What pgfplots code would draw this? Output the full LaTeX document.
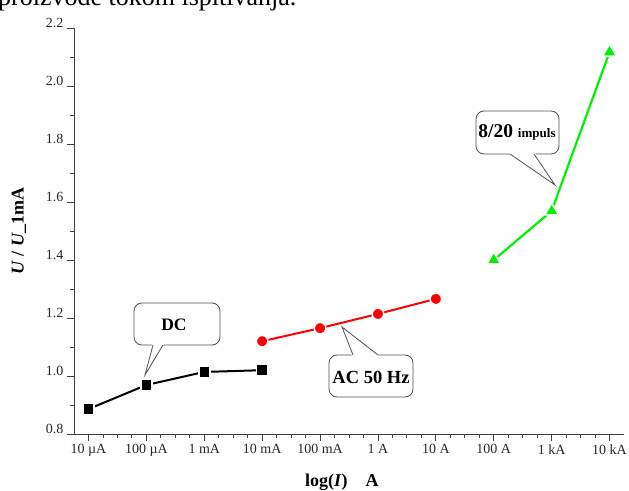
\documentclass[border=0pt]{standalone}
\usepackage{pgfplots}
\pgfplotsset{compat=1.18}
\usepackage{fontspec}
\setmainfont{Liberation Serif}
\definecolor{mygreen}{RGB}{0,240,0}
\definecolor{myred}{RGB}{255,0,0}
\definecolor{boxgray}{RGB}{80,80,80}

\begin{document}
\begin{tikzpicture}[x=1pt,y=1pt]
\node[anchor=base west, inner sep=0pt, font=\fontsize{26}{30}\selectfont] at (-2,484.5) {proizvode tokom ispitivanja.};
\begin{axis}[
  at={(74pt,56pt)}, anchor=south west,
  scale only axis, width=550pt, height=406pt,
  xmin=-5.25, xmax=4.25, ymin=0.8, ymax=2.2,
  axis x line*=bottom, axis y line*=left,
  axis line style={black!75, line width=0.8pt},
  xtick={-5,-4,-3,-2,-1,0,1,2,3,4},
  xticklabels={10 µA, 100 µA, 1 mA, 10 mA, 100 mA, 1 A, 10 A, 100 A, 1 kA, 10 kA},
  minor x tick num=3,
  ytick={0.8,1.0,1.2,1.4,1.6,1.8,2.0,2.2},
  minor y tick num=1,
  tick align=outside,
  major tick length=7pt, minor tick length=4pt,
  every tick/.style={black!75, line width=0.8pt},
  yticklabel style={/pgf/number format/fixed, /pgf/number format/fixed zerofill, /pgf/number format/precision=1, yshift=5pt},
  /pgf/number format/assume math mode=true,
  tick label style={font=\fontsize{14}{16}\selectfont, text=black!85},
  xlabel={\bfseries log(\textit{I})\quad A},
  ylabel={\bfseries\textit{U} / \textit{U}\_1mA},
  every axis x label/.style={at={(axis description cs:0.487,-0.118)}, anchor=center, font=\fontsize{18}{21}\selectfont},
  every axis y label/.style={at={(axis description cs:-0.1,0.5)}, rotate=90, anchor=center, font=\fontsize{18}{21}\selectfont},
  clip=false,
]
\addplot[black, line width=2pt, mark=square*, mark size=5.5pt,
  mark options={solid, fill=black, draw=white, line width=1.5pt}]
  coordinates {(-5,0.886) (-4,0.969) (-3,1.014) (-2,1.020)};
\addplot[myred, line width=2pt, mark=*, mark size=5.8pt,
  mark options={solid, fill=myred, draw=white, line width=1.5pt}]
  coordinates {(-2,1.120) (-1,1.165) (0,1.214) (1,1.266)};
\addplot[mygreen, line width=2.2pt, mark=triangle*, mark size=8pt,
  mark options={solid, fill=mygreen, draw=white, line width=1.5pt}]
  coordinates {(2,1.400) (3,1.569) (4,2.117)};
\end{axis}
% DC callout
\draw[boxgray, fill=white, line width=0.8pt, rounded corners=8pt] (134,145) rectangle (220,187);
\fill[white] (152,146) -- (145,115) -- (164,146) -- cycle;
\draw[boxgray, line width=0.8pt] (153,145) -- (145,115) -- (163,145);
\node[font=\fontsize{17.5}{20}\selectfont\bfseries] at (174,165) {DC};
% AC callout
\draw[boxgray, fill=white, line width=0.8pt, rounded corners=8pt] (329,93) rectangle (413,135);
\fill[white] (352,134) -- (342,163) -- (379,134) -- cycle;
\draw[boxgray, line width=0.8pt] (353,135) -- (342,163) -- (378,135);
\node[font=\fontsize{18.5}{21}\selectfont\bfseries] at (371,113) {AC 50 Hz};
% 8/20 callout
\draw[boxgray, fill=white, line width=0.8pt, rounded corners=8pt] (476,336) rectangle (559,379);
\fill[white] (509,337) -- (555,305) -- (535,337) -- cycle;
\draw[boxgray, line width=0.8pt] (510,336) -- (555,305) -- (534,336);
\node[font=\bfseries] at (517,358) {\fontsize{19.5}{22}\selectfont 8/20 \fontsize{13}{15}\selectfont impuls};
\pgfresetboundingbox
\path[use as bounding box] (0,0) rectangle (629,490);
\end{tikzpicture}
\end{document}
